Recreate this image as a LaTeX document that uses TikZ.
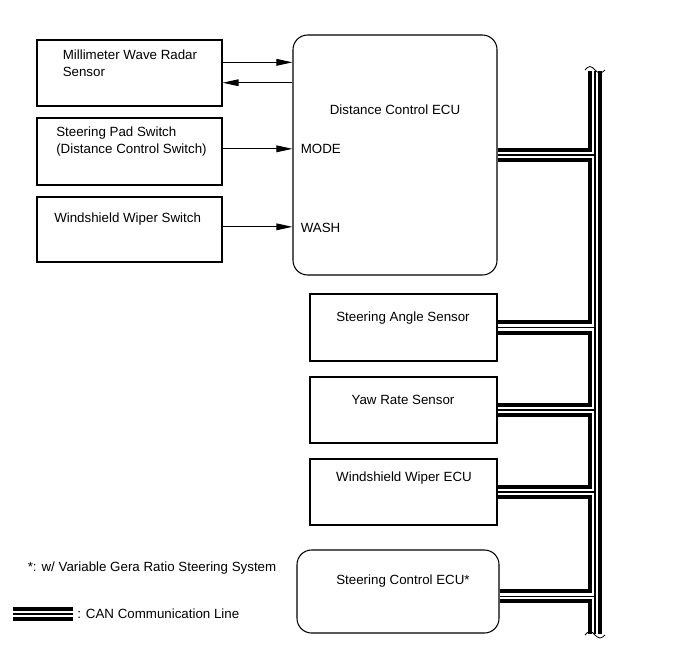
\documentclass[tikz,border=0pt]{standalone}
\usepackage{fontspec}
\setmainfont{Liberation Sans}
\usetikzlibrary{arrows.meta}

\begin{document}
\begin{tikzpicture}[x=0.75pt,y=-0.75pt,
  box/.style={rectangle,draw,line width=0.8pt,inner sep=0pt},
  rbox/.style={box,rounded corners=11pt},
  txt/.style={font=\fontsize{10pt}{12.5pt}\selectfont,inner sep=0pt},
  a/.style={-{Triangle[length=12pt,width=5pt]},line width=0.75pt},
  can/.style={line width=11pt,postaction={draw=white,line width=5pt},postaction={draw,line width=0.8pt}},
  brk/.style={line width=0.6pt}]

\useasboundingbox (0,0) rectangle (691,660);

% input side
\node[box,minimum width=138.75pt,minimum height=49.5pt] (radar) at (129.5,73) {};
\node[txt,anchor=north west,align=left] (radart) at (62.5,50) {Millimeter Wave Radar\\Sensor};
\node[box,minimum width=138.75pt,minimum height=50.25pt] (pad) at (129.5,151.5) {};
\node[txt,anchor=north west,align=left] (padt) at (56,127) {Steering Pad Switch\\(Distance Control Switch)};
\node[box,minimum width=138.75pt,minimum height=48.75pt] (wsw) at (129.5,229.5) {};
\node[txt,anchor=west] (wswt) at (54,219) {Windshield Wiper Switch};

% distance control ECU
\node[rbox,minimum width=153pt,minimum height=180pt] (ecu) at (395,155) {};
\node[txt] (ecut) at (395,110) {Distance Control ECU};
\node[txt,anchor=west] (mode) at (300.5,149) {MODE};
\node[txt,anchor=west] (wash) at (300.5,228) {WASH};

\draw[a] ([yshift=8pt]radar.east) -- ([yshift=8pt]radar.east -| ecu.west);
\draw[a] ([yshift=-7.3pt]radar.east -| ecu.west) -- ([yshift=-7.3pt]radar.east);
\draw[a] ([yshift=2pt]pad.east) -- ([yshift=2pt]pad.east -| ecu.west);
\draw[a] ([yshift=2pt]wsw.east) -- ([yshift=2pt]wsw.east -| ecu.west);

% CAN side
\node[box,minimum width=140.25pt,minimum height=50.25pt] (sas) at (403.5,327.5) {};
\node[txt] (sast) at (403,318) {Steering Angle Sensor};
\node[box,minimum width=140.25pt,minimum height=49.5pt] (yaw) at (403.5,410) {};
\node[txt] (yawt) at (403,399.5) {Yaw Rate Sensor};
\node[box,minimum width=140.25pt,minimum height=49.5pt] (wecu) at (403.5,492) {};
\node[txt] (wecut) at (404,478.5) {Windshield Wiper ECU};
\node[rbox,minimum width=151.5pt,minimum height=62.25pt] (scu) at (398,591.5) {};
\node[txt] (scut) at (403,581.5) {Steering Control ECU*};

\coordinate (bustop) at (595,71);
\coordinate (busbot) at (595,634);
\draw[can] (bustop) -- (busbot)
  (ecu.east) -- (ecu.east -| bustop)
  (sas.east) -- (sas.east -| bustop)
  (yaw.east) -- (yaw.east -| bustop)
  (wecu.east) -- (wecu.east -| bustop)
  ([yshift=-3.4pt]scu.east) -- ([yshift=-3.4pt]scu.east -| bustop);
\draw[brk] (585,70) sin (590,66.5) cos (595,70) sin (600,73) cos (605,70);
\draw[brk] (585,635) sin (590,631.5) cos (595,635) sin (600,638) cos (605,635);

% notes
\node[txt,anchor=west] (foot) at (27.5,568.5) {*: w/ Variable Gera Ratio Steering System};
\coordinate (lg1) at (13,614);
\coordinate (lg2) at (73,614);
\draw[can] (lg1) -- (lg2);
\node[txt,anchor=west] (lgt) at (77,614) {: CAN Communication Line};
\end{tikzpicture}
\end{document}
